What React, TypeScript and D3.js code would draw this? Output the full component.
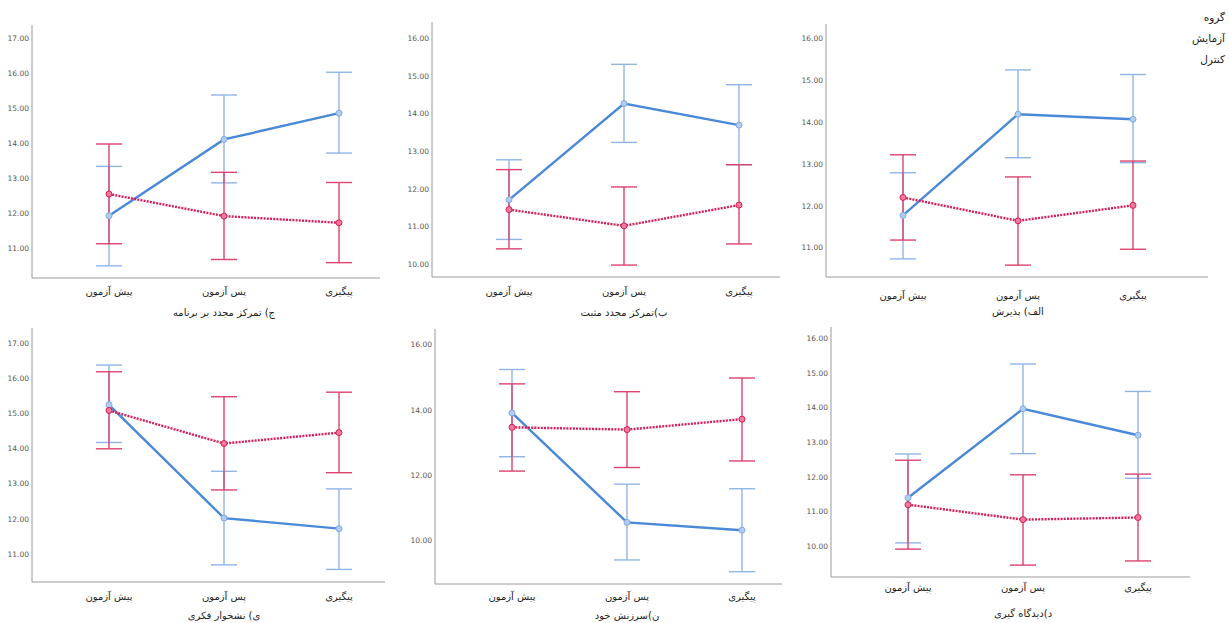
import React from 'react'
import * as d3 from 'd3'

// categories (time points)
const categories = ['پیش آزمون', 'پس آزمون', 'پیگیری']

// panels: ج, ب, الف (top row) / ی, ن, د (bottom row)
const panelTitles = [
  'ج) تمرکز مجدد بر برنامه',
  'ب)تمرکز مجدد مثبت',
  'الف) پذیرش',
  'ی) نشخوار فکری',
  'ن)سرزنش خود',
  'د)دیدگاه گیری',
]

const yTicks = [
  [11, 12, 13, 14, 15, 16, 17],
  [10, 11, 12, 13, 14, 15, 16],
  [11, 12, 13, 14, 15, 16],
  [11, 12, 13, 14, 15, 16, 17],
  [10, 12, 14, 16],
  [10, 11, 12, 13, 14, 15, 16],
]

// آزمایش (experimental) group
const expMean = [
  [11.95, 14.13, 14.88],
  [11.72, 14.27, 13.7],
  [11.78, 14.2, 14.08],
  [15.25, 12.03, 11.73],
  [13.92, 10.57, 10.33],
  [11.41, 13.97, 13.21],
]
const expLow = [
  [10.52, 12.89, 13.74],
  [10.67, 13.24, 12.65],
  [10.74, 13.16, 13.04],
  [14.18, 10.7, 10.57],
  [12.58, 9.42, 9.06],
  [10.11, 12.68, 11.97],
]
const expHigh = [
  [13.36, 15.4, 16.05],
  [12.78, 15.31, 14.77],
  [12.8, 15.26, 15.15],
  [16.38, 13.36, 12.86],
  [15.25, 11.74, 11.6],
  [12.67, 15.26, 14.47],
]

// کنترل (control) group
const ctlMean = [
  [12.57, 11.94, 11.75],
  [11.46, 11.03, 11.58],
  [12.21, 11.65, 12.02],
  [15.09, 14.15, 14.46],
  [13.48, 13.41, 13.73],
  [11.21, 10.78, 10.84],
]
const ctlLow = [
  [11.15, 10.7, 10.61],
  [10.42, 9.99, 10.55],
  [11.19, 10.59, 10.97],
  [14.0, 12.83, 13.32],
  [12.14, 12.25, 12.45],
  [9.93, 9.47, 9.59],
]
const ctlHigh = [
  [14.0, 13.19, 12.9],
  [12.52, 12.06, 12.65],
  [13.23, 12.7, 13.08],
  [16.19, 15.48, 15.61],
  [14.81, 14.57, 14.99],
  [12.49, 12.07, 12.09],
]

const legendTitle = 'گروه'
const legendLabels = ['آزمایش', 'کنترل']

// panel frames (pixel layout)
const frames = [
  { left: 32, right: 380, top: 25, bottom: 278, t0: 11, y0: 249, t1: 17, y1: 39, labelY: 295, titleY: 316 },
  { left: 432, right: 780, top: 22, bottom: 277, t0: 10, y0: 264.7, t1: 16, y1: 38.3, labelY: 295, titleY: 316 },
  { left: 826, right: 1208, top: 24, bottom: 277, t0: 11, y0: 248, t1: 16, y1: 39, labelY: 299, titleY: 315 },
  { left: 32, right: 385, top: 328, bottom: 582, t0: 11, y0: 554.3, t1: 17, y1: 343.3, labelY: 600, titleY: 619 },
  { left: 435, right: 782, top: 329, bottom: 584, t0: 10, y0: 541, t1: 16, y1: 345, labelY: 600, titleY: 619 },
  { left: 831, right: 1190, top: 327, bottom: 577, t0: 10, y0: 546.7, t1: 16, y1: 338.3, labelY: 591, titleY: 617 },
]

const FONT = 'DejaVu Sans, Arial, sans-serif'
const BLUE_LINE = '#4a88d8'
const BLUE_BAR = '#8fb5e6'
const RED_LINE = '#d81e58'
const RED_BAR = '#dc426e'

const Panel: React.FC<{ i: number }> = ({ i }) => {
  const f = frames[i]
  const x = d3.scalePoint<string>().domain(categories).range([f.left + 77, f.left + 307])
  const y = d3.scaleLinear().domain([f.t0, f.t1]).range([f.y0, f.y1])
  const line = d3.line<number>().x((_, k) => x(categories[k]) as number).y(d => y(d))
  const cap = 13

  const bars = (low: number[], high: number[], color: string) =>
    categories.map((c, k) => {
      const cx = x(c) as number
      return (
        <g key={c} stroke={color} strokeWidth={1.4}>
          <line x1={cx} x2={cx} y1={y(low[k])} y2={y(high[k])} />
          <line x1={cx - cap} x2={cx + cap} y1={y(low[k])} y2={y(low[k])} />
          <line x1={cx - cap} x2={cx + cap} y1={y(high[k])} y2={y(high[k])} />
        </g>
      )
    })

  return (
    <g>
      {/* axes */}
      <line x1={f.left} x2={f.left} y1={f.top} y2={f.bottom} stroke="#9a9a9a" strokeWidth={1} />
      <line x1={f.left} x2={f.right} y1={f.bottom} y2={f.bottom} stroke="#9a9a9a" strokeWidth={1} />
      {yTicks[i].map(t => (
        <text key={t} x={f.left - 3} y={y(t)} dy="0.33em" textAnchor="end" fontSize={7.5} fill="#555" fontFamily={FONT}>
          {t.toFixed(2)}
        </text>
      ))}
      {categories.map(c => (
        <text key={c} x={x(c)} y={f.labelY} textAnchor="middle" fontSize={10} fill="#222" fontFamily={FONT} direction="rtl">
          {c}
        </text>
      ))}
      <text x={x(categories[1])} y={f.titleY} textAnchor="middle" fontSize={10} fill="#222" fontFamily={FONT} direction="rtl">
        {panelTitles[i]}
      </text>

      {/* error bars */}
      {bars(expLow[i], expHigh[i], BLUE_BAR)}
      {bars(ctlLow[i], ctlHigh[i], RED_BAR)}

      {/* lines */}
      <path d={line(expMean[i]) ?? ''} fill="none" stroke={BLUE_LINE} strokeWidth={2.4} />
      <path d={line(ctlMean[i]) ?? ''} fill="none" stroke={RED_LINE} strokeWidth={2.4} strokeDasharray="2,1.2" />

      {expMean[i].map((v, k) => (
        <circle key={'e' + k} cx={x(categories[k])} cy={y(v)} r={3} fill="#b3cdef" stroke="#7ea9e2" strokeWidth={1} />
      ))}
      {ctlMean[i].map((v, k) => (
        <circle key={'c' + k} cx={x(categories[k])} cy={y(v)} r={3} fill="#ee7d9c" stroke={RED_LINE} strokeWidth={1} />
      ))}
    </g>
  )
}

export default function App() {
  return (
    <svg width={1229} height={623} style={{ position: 'absolute', left: 0, top: 0, background: '#fff' }}>
      <rect width={1229} height={623} fill="#fff" />
      {frames.map((_, i) => (
        <Panel key={i} i={i} />
      ))}
      <g fontFamily={FONT} fontSize={10.5} fill="#222" textAnchor="end">
        <text x={1225} y={21}>{legendTitle}</text>
        {legendLabels.map((l, k) => (
          <text key={l} x={1225} y={42 + k * 21}>{l}</text>
        ))}
      </g>
    </svg>
  )
}
